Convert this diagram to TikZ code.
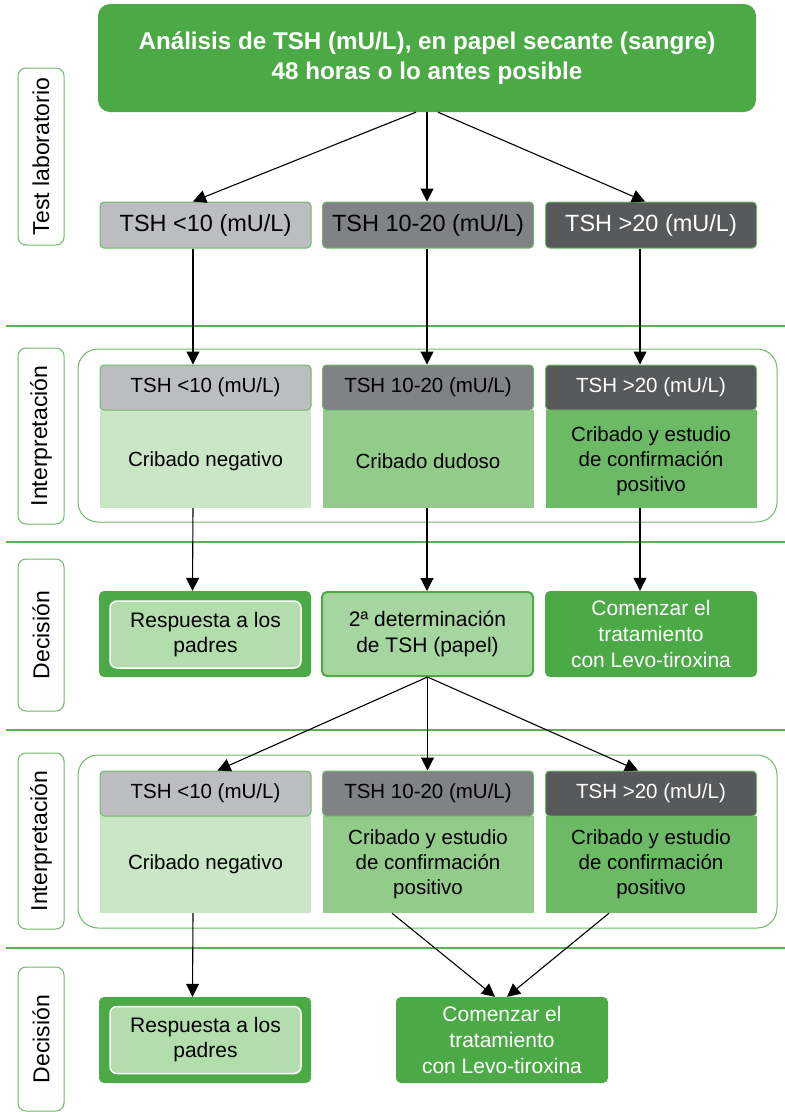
\documentclass[tikz,border=0pt]{standalone}
\usepackage{fontspec}
\setmainfont{Liberation Sans}
\usetikzlibrary{arrows.meta,calc}
\definecolor{gmain}{HTML}{4BAA45}
\definecolor{gline}{HTML}{5BB054}
\definecolor{gborder}{HTML}{6DBA66}
\definecolor{gbodyA}{HTML}{C9E6C5}
\definecolor{gbodyB}{HTML}{93CB8B}
\definecolor{gbodyC}{HTML}{6DBA66}
\definecolor{ginner}{HTML}{B3DDAD}
\definecolor{gsecond}{HTML}{A6D69F}
\definecolor{grayA}{HTML}{BCBDC0}
\definecolor{grayB}{HTML}{808285}
\definecolor{grayC}{HTML}{58595B}
\tikzset{
  arr/.style={draw=black, line width=1.1pt, -{Triangle[length=13pt,width=13pt]}},
  sepline/.style={draw=gline, line width=2.5pt},
  sidelabel/.style={draw=gborder, line width=1pt, fill=white, rounded corners=8pt,
    rotate=90, minimum height=46pt, inner sep=0pt,
    font=\fontsize{23}{27}\selectfont},
  group/.style={draw=gborder, line width=1pt, rounded corners=20pt, inner sep=0pt},
  tshbox/.style={draw=gborder, line width=1pt, rounded corners=4pt,
    minimum width=211pt, minimum height=46pt, inner sep=0pt,
    font=\fontsize{23.5}{27}\selectfont},
  hdr/.style={draw=gborder, line width=1pt, rounded corners=4pt,
    minimum width=211pt, minimum height=45pt, inner sep=0pt,
    font=\fontsize{20.5}{25}\selectfont},
  body/.style={minimum width=211pt, inner sep=0pt, align=center,
    font=\fontsize{20.5}{25}\selectfont},
  decbox/.style={rounded corners=5pt, minimum width=212pt, minimum height=86pt,
    inner sep=0pt, align=center, font=\fontsize{21}{26}\selectfont},
  innerbox/.style={fill=ginner, draw=white, line width=1.5pt, rounded corners=7pt,
    minimum width=191pt, minimum height=67pt, inner sep=0pt, align=center,
    font=\fontsize{21}{25}\selectfont}
}
\begin{document}
\begin{tikzpicture}[x=1pt,y=-1pt]
\useasboundingbox (0,0) rectangle (785,1112);
\fill[white] (0,0) rectangle (785,1112);

% separator lines
\coordinate (s1l) at (6,326); \coordinate (s1r) at (785,326);
\coordinate (s2l) at (6,542); \coordinate (s2r) at (785,542);
\coordinate (s3l) at (6,730); \coordinate (s3r) at (785,730);
\coordinate (s4l) at (6,948); \coordinate (s4r) at (785,948);
\draw[sepline] (s1l) -- (s1r);
\draw[sepline] (s2l) -- (s2r);
\draw[sepline] (s3l) -- (s3r);
\draw[sepline] (s4l) -- (s4r);

% side labels
\node[sidelabel, minimum width=177pt] (lab1) at (41,156.5) {Test laboratorio};
\node[sidelabel, minimum width=176pt] (lab2) at (41,436) {Interpretación};
\node[sidelabel, minimum width=152pt] (lab3) at (41,635) {Decisión};
\node[sidelabel, minimum width=176pt] (lab4) at (41,841) {Interpretación};
\node[sidelabel, minimum width=144pt] (lab5) at (41,1039) {Decisión};

% title
\node[fill=gmain, rounded corners=12pt, minimum width=658pt, minimum height=108pt,
  inner sep=0pt, align=center, text=white, font=\bfseries\fontsize{24.2}{30}\selectfont]
  (title) at (427,58) {Análisis de TSH (mU/L), en papel secante (sangre)\\48 horas o lo antes posible};

% row 1
\node[tshbox, fill=grayA] (r1a) at (205.5,225) {TSH <10 (mU/L)};
\node[tshbox, fill=grayB] (r1b) at (428,225) {TSH 10-20 (mU/L)};
\node[tshbox, fill=grayC, text=white] (r1c) at (651,225) {TSH >20 (mU/L)};

% interpretation group 1
\node[group, minimum width=699pt, minimum height=173pt] (g1) at (427.5,435.5) {};
\node[body, fill=gbodyA, minimum height=98pt] (b1a) at (205.5,459) {};
\node[body] (t1a) at (205.5,461) {Cribado negativo};
\node[body, fill=gbodyB, minimum height=98pt] (b1b) at (428,459) {};
\node[body] (t1b) at (428,461) {Cribado dudoso};
\node[body, fill=gbodyC, minimum height=98pt] (b1c) at (651,459) {};
\node[body] (t1c) at (651,461) {Cribado y estudio\\de confirmación\\positivo};
\node[hdr, fill=grayA] (h1a) at (205.5,387.5) {TSH <10 (mU/L)};
\node[hdr, fill=grayB] (h1b) at (428,387.5) {TSH 10-20 (mU/L)};
\node[hdr, fill=grayC, text=white] (h1c) at (651,387.5) {TSH >20 (mU/L)};

% decision row 1
\node[decbox, fill=gmain] (d1a) at (205,634) {};
\node[innerbox] (d1ai) at (205.5,634.5) {Respuesta a los\\padres};
\node[decbox, fill=gsecond, draw=gmain, line width=2pt, minimum width=211pt, minimum height=84pt] (d1b) at (427.5,634) {2ª determinación\\de TSH (papel)};
\node[decbox, fill=gmain, text=white] (d1c) at (651,634) {Comenzar el\\tratamiento\\con Levo-tiroxina};

% interpretation group 2
\node[group, minimum width=699pt, minimum height=173pt] (g2) at (427.5,841.5) {};
\node[body, fill=gbodyA, minimum height=97pt] (b2a) at (205.5,864.5) {Cribado negativo};
\node[body, fill=gbodyB, minimum height=97pt] (b2b) at (428,864.5) {Cribado y estudio\\de confirmación\\positivo};
\node[body, fill=gbodyC, minimum height=97pt] (b2c) at (651,864.5) {Cribado y estudio\\de confirmación\\positivo};
\node[hdr, fill=grayA] (h2a) at (205.5,793.5) {TSH <10 (mU/L)};
\node[hdr, fill=grayB] (h2b) at (428,793.5) {TSH 10-20 (mU/L)};
\node[hdr, fill=grayC, text=white] (h2c) at (651,793.5) {TSH >20 (mU/L)};

% decision row 2
\node[decbox, fill=gmain] (d2a) at (205,1040) {};
\node[innerbox] (d2ai) at (205.5,1040) {Respuesta a los\\padres};
\node[decbox, fill=gmain, text=white] (d2b) at (502,1040) {Comenzar el\\tratamiento\\con Levo-tiroxina};

% connectors: title -> row 1
\draw[arr] ([xshift=-11pt]title.south) -- ([xshift=-12.5pt]r1a.north);
\draw[arr] (title.south) -- (r1b.north -| title.south);
\draw[arr] ([xshift=11pt]title.south) -- ([xshift=-6pt]r1c.north);

% row 1 -> interpretation
\draw[arr] ([xshift=-12.5pt]r1a.south) -- ([xshift=-12.5pt]h1a.north);
\draw[arr] (r1b.south -| title.south) -- (h1b.north -| title.south);
\draw[arr] ([xshift=-11pt]r1c.south) -- ([xshift=-11pt]h1c.north);

% interpretation -> decision
\draw[arr] ([xshift=-12.5pt]b1a.south) -- ([xshift=-12.5pt]d1a.north);
\draw[arr] (b1b.south -| title.south) -- (d1b.north -| title.south);
\draw[arr] ([xshift=-11pt]b1c.south) -- ([xshift=-11pt]d1c.north);

% second determination -> group 2
\draw[arr] (d1b.south) -- ([xshift=12pt]h2a.north);
\draw[arr] (d1b.south) -- (h2b.north -| d1b.south);
\draw[arr] (d1b.south) -- ([xshift=-13pt]h2c.north);

% group 2 -> decisions
\draw[arr] ([xshift=-36pt]b2b.south) -- ([xshift=-7pt]d2b.north);
\draw[arr] ([xshift=-42pt]b2c.south) -- ([xshift=5pt]d2b.north);
\draw[arr] ([xshift=-12.5pt]b2a.south) -- ([xshift=-12.5pt]d2a.north);
\end{tikzpicture}
\end{document}
